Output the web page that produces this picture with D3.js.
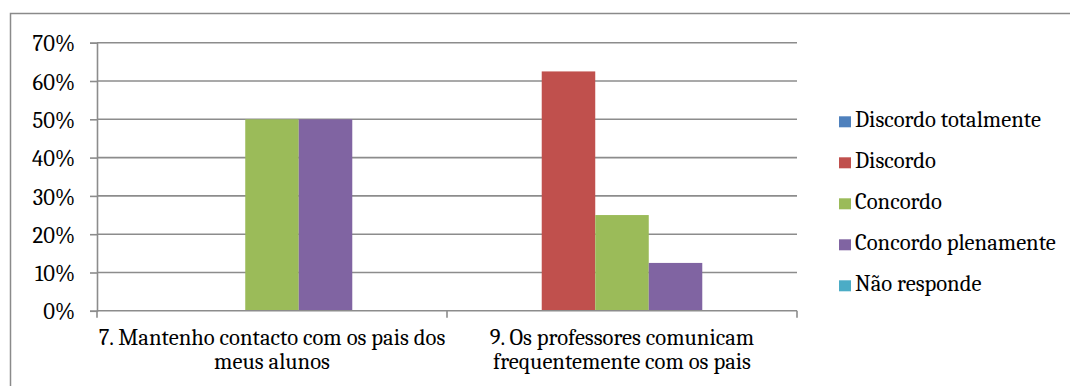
<!DOCTYPE html>
<html>
<head>
<meta charset="utf-8">
<script src="https://cdn.jsdelivr.net/npm/d3@7"></script>
<style>
  html, body { margin: 0; padding: 0; background: #fff; }
  svg { display: block; }
</style>
</head>
<body>
<svg id="chart" width="1070" height="386"></svg>
<script>
// Survey items (x categories), each drawn on two lines
const categories = [
  ["7. Mantenho contacto com os pais dos", "meus alunos"],
  ["9. Os professores comunicam", "frequentemente com os pais"]
];
const seriesNames = ["Discordo totalmente", "Discordo", "Concordo", "Concordo plenamente", "Não responde"];
const seriesColors = ["#4F81BD", "#C0504D", "#9BBB59", "#8064A2", "#4BACC6"];
// Percentage of answers per series, one value per category
const discordoTotalmente = [0, 0];
const discordo = [0, 62.5];
const concordo = [50, 25];
const concordoPlenamente = [50, 12.5];
const naoResponde = [0, 0];
const seriesValues = [discordoTotalmente, discordo, concordo, concordoPlenamente, naoResponde];
const yTicks = [0, 10, 20, 30, 40, 50, 60, 70];

const FONT = '"Caladea", "Cambria", "Liberation Serif", serif';
const FONT_SIZE = "22.6px";
const GRID = "#8c8c8c";

const svg = d3.select("#chart");
const plot = { left: 97, right: 797, top: 42.7, bottom: 310.8 };

// Outer chart frame
svg.append("rect")
  .attr("x", 10.5).attr("y", 13.5)
  .attr("width", 1070).attr("height", 400)
  .attr("fill", "none").attr("stroke", "#8a8a8a").attr("stroke-width", 1.5);

const x = d3.scaleBand().domain(d3.range(categories.length))
  .range([plot.left, plot.right]).paddingInner(0).paddingOuter(0);
const y = d3.scaleLinear().domain([0, 70]).range([plot.bottom, plot.top]);
const xs = d3.scaleBand().domain(d3.range(seriesNames.length))
  .range([0, x.bandwidth()]).paddingOuter(0.77).paddingInner(0);

// Horizontal gridlines
svg.append("g").selectAll("line").data(yTicks.filter(t => t > 0)).join("line")
  .attr("x1", plot.left).attr("x2", plot.right)
  .attr("y1", d => y(d)).attr("y2", d => y(d))
  .attr("stroke", GRID).attr("stroke-width", 1.6);

// Bars
const groups = svg.append("g").selectAll("g").data(categories).join("g")
  .attr("transform", (d, i) => `translate(${x(i)},0)`);
groups.selectAll("rect")
  .data((d, i) => seriesValues.map((vals, s) => ({ s, v: vals[i] })))
  .join("rect")
  .attr("x", d => xs(d.s))
  .attr("width", xs.bandwidth())
  .attr("y", d => y(d.v))
  .attr("height", d => y(0) - y(d.v))
  .attr("fill", d => seriesColors[d.s]);

// Y axis
const yAxis = d3.axisLeft(y).tickValues(yTicks).tickFormat(d => d + "%").tickSize(7).tickPadding(15);
const gy = svg.append("g").attr("transform", `translate(${plot.left},0)`).call(yAxis)
  .attr("font-family", null).attr("font-size", null);
gy.select(".domain").attr("stroke", GRID).attr("stroke-width", 1.6);
gy.selectAll(".tick line").attr("stroke", GRID).attr("stroke-width", 1.6);
gy.selectAll(".tick text")
  .style("font-family", FONT).style("font-size", FONT_SIZE).attr("fill", "#000")
  .attr("dy", "0.36em");

// X axis with ticks at category boundaries
const gx = svg.append("g");
gx.append("line").attr("x1", plot.left).attr("x2", plot.right)
  .attr("y1", y(0)).attr("y2", y(0))
  .attr("stroke", GRID).attr("stroke-width", 1.6);
const bounds = d3.range(categories.length + 1).map(i => i < categories.length ? x(i) : plot.right);
gx.selectAll("line.tick").data(bounds).join("line").attr("class", "tick")
  .attr("x1", d => d).attr("x2", d => d)
  .attr("y1", y(0)).attr("y2", y(0) + 7)
  .attr("stroke", GRID).attr("stroke-width", 1.6);
gx.selectAll("text").data(categories).join("text")
  .attr("text-anchor", "middle")
  .style("font-family", FONT).style("font-size", FONT_SIZE).attr("fill", "#000")
  .attr("x", (d, i) => x(i) + x.bandwidth() / 2)
  .attr("y", y(0) + 34.5)
  .selectAll("tspan").data(d => d).join("tspan")
  .attr("x", function () { return this.parentNode.getAttribute("x"); })
  .attr("dy", (d, j) => j === 0 ? 0 : 24)
  .text(d => d);

// Legend
const legend = svg.append("g").selectAll("g").data(seriesNames).join("g")
  .attr("transform", (d, i) => `translate(839,${127.3 + i * 41})`);
legend.append("rect").attr("x", 0).attr("y", -11).attr("width", 12).attr("height", 11)
  .attr("fill", (d, i) => seriesColors[i]);
legend.append("text").attr("x", 16).attr("y", 0)
  .style("font-family", FONT).style("font-size", FONT_SIZE).attr("fill", "#000")
  .text(d => d);
</script>
</body>
</html>
